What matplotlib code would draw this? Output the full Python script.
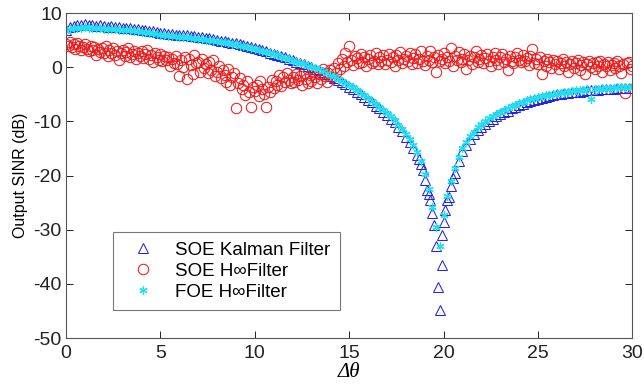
import numpy as np
import matplotlib
matplotlib.use("Agg")
import matplotlib.pyplot as plt

# ---- data ----
# shared grid for the Kalman / FOE series (0.2 deg step)
x_coarse = np.round(np.arange(0, 30.0001, 0.2), 1)

kalman_y = [
    6.9, 7.4, 7.6, 7.8, 7.7, 7.9, 7.7, 7.8, 7.6, 7.7,
    7.6, 7.5, 7.6, 7.4, 7.4, 7.3, 7.2, 7.3, 7.1, 7.0,
    6.9, 6.9, 6.7, 6.7, 6.5, 6.4, 6.4, 6.2, 6.2, 6.0,
    6.0, 5.9, 5.9, 5.7, 5.7, 5.6, 5.5, 5.4, 5.3, 5.2,
    5.1, 4.9, 4.8, 4.7, 4.5, 4.4, 4.2, 4.1, 3.9, 3.7,
    3.5, 3.3, 3.1, 2.9, 2.7, 2.5, 2.3, 2.0, 1.8, 1.5,
    1.3, 1.0, 0.8, 0.5, 0.3, 0.0, -0.3, -0.6, -0.9, -1.3,
    -1.6, -2.0, -2.3, -2.7, -3.1, -3.6, -4.0, -4.5, -5.0, -5.5,
    -6.0, -6.5, -7.1, -7.6, -8.2, -8.8, -9.5, -10.2, -11.0, -11.8,
    -12.8, -13.8, -15.0, -16.3, -17.8, -20.8, -23.5, -27.0, -33.0, -44.8,
    -28.5, -24.5, -22.0, -19.5, -17.3, -15.5, -14.4, -13.2, -12.4, -11.6,
    -11.0, -10.4, -9.9, -9.5, -9.1, -8.7, -8.3, -8.0, -7.6, -7.3,
    -7.0, -6.8, -6.5, -6.3, -6.0, -5.8, -5.7, -5.5, -5.3, -5.2,
    -5.0, -4.9, -4.8, -4.7, -4.6, -4.5, -4.5, -4.4, -4.3, -4.3,
    -4.2, -4.2, -4.1, -4.1, -4.0, -4.0, -3.9, -3.9, -3.9, -3.8,
    -3.8,
]
# extra Kalman points around the null
kalman_null_x = [18.7, 18.9, 19.1, 19.3, 19.5, 19.7, 19.9, 19.9, 20.1, 20.3, 20.5]
kalman_null_y = [-17.0, -19.0, -22.7, -24.5, -29.1, -40.5, -36.5, -31.0, -26.4, -23.9, -20.5]

foe_y = [
    6.6, 7.0, 7.2, 7.3, 7.2, 7.4, 7.3, 7.3, 7.2, 7.2,
    7.1, 7.1, 7.1, 7.0, 6.9, 6.9, 6.8, 6.8, 6.7, 6.6,
    6.5, 6.5, 6.3, 6.3, 6.1, 6.0, 6.0, 5.8, 5.8, 5.7,
    5.6, 5.5, 5.5, 5.4, 5.3, 5.2, 5.2, 5.0, 5.0, 4.9,
    4.8, 4.7, 4.6, 4.5, 4.3, 4.2, 4.0, 3.9, 3.7, 3.5,
    3.3, 3.2, 3.0, 2.8, 2.6, 2.4, 2.2, 1.9, 1.7, 1.5,
    1.2, 1.0, 0.8, 0.5, 0.3, 0.1, -0.2, -0.4, -0.7, -1.1,
    -1.4, -1.7, -2.1, -2.5, -2.9, -3.3, -3.7, -4.2, -4.7, -5.2,
    -5.7, -6.2, -6.8, -7.3, -7.9, -8.5, -9.1, -9.8, -10.6, -11.4,
    -12.3, -13.3, -14.4, -15.7, -17.3, -19.8, -22.5, -25.8, -29.5, -33.0,
    -27.3, -23.8, -21.0, -18.7, -16.6, -15.0, -13.8, -12.7, -11.9, -11.1,
    -10.5, -9.9, -9.4, -9.0, -8.6, -8.2, -7.9, -7.5, -7.2, -6.9,
    -6.6, -6.4, -6.1, -5.9, -5.7, -5.5, -5.4, -5.2, -5.1, -4.9,
    -4.8, -4.7, -4.6, -4.5, -4.4, -4.3, -4.3, -4.2, -4.1, -5.9,
    -4.0, -4.0, -3.9, -3.9, -3.8, -3.8, -3.7, -3.7, -3.7, -3.6,
    -3.6,
]

# SOE H-infinity series on a 0.1 deg grid
x_fine = np.round(np.arange(0, 30.0001, 0.1), 1)
soe_hinf_y = [
    4.3, 3.9, 4.6, 3.7, 4.2, 3.4, 4.5, 4.0, 3.1, 3.7,
    4.2, 3.3, 2.9, 3.9, 3.1, 3.7, 2.2, 3.4, 2.8, 3.6,
    2.6, 3.9, 2.0, 3.1, 2.7, 3.5, 2.3, 3.0, 1.4, 2.7,
    3.2, 2.0, 2.8, 3.5, 1.8, 2.5, 3.0, 1.6, 2.7, 2.1,
    2.9, 1.7, 2.4, 3.1, 1.5, 2.3, 1.0, 2.6, 1.9, 1.4,
    2.4, 1.1, 2.0, 1.3, 1.8, 0.3, 1.6, 0.8, 2.1, 0.6,
    -1.6, 1.3, 0.0, 1.8, -2.1, 1.5, 0.4, -1.2, 2.2, 0.7,
    1.0, -0.8, 1.6, -0.2, 0.6, -1.1, 0.9, -0.5, 1.3, -1.6,
    -0.9, 0.2, -2.0, -0.5, -1.4, -2.7, -0.3, -3.3, -1.8, -1.0,
    -7.5, -2.9, -2.0, -4.0, -3.2, -5.1, -2.5, -4.5, -7.3, -3.6,
    -4.4, -3.3, -5.4, -2.6, -4.0, -4.9, -7.3, -3.6, -4.6, -2.4,
    -3.8, -2.6, -3.2, -1.4, -3.5, -1.8, -2.8, -1.1, -2.3, -3.0,
    -1.9, -2.7, -1.2, -2.4, -1.7, -3.2, -1.0, -2.1, -2.9, -1.4,
    -2.5, -0.8, -1.9, -3.0, -1.3, -2.2, -0.3, -1.7, -2.8, -1.1,
    -0.5, -1.9, -0.2, -1.0, 0.8, -0.4, 1.5, 0.2, 2.7, 0.9,
    3.9, 1.3, 0.4, 2.1, 1.7, 0.7, 2.4, 1.0, 1.9, 0.2,
    1.5, 2.3, 0.8, 1.2, 2.6, 0.5, 1.8, 1.1, 2.2, 0.6,
    1.4, 2.5, 0.9, 1.9, 0.3, 2.2, 1.3, 2.8, 0.7, 1.6,
    2.0, 1.1, 2.7, 0.5, 1.7, 2.4, 0.8, 1.5, 2.9, 1.2,
    0.4, 2.1, 1.4, 3.0, 0.9, 1.8, -0.8, 2.3, 1.1, 1.6,
    2.6, 0.7, 1.9, 1.2, 3.5, 0.3, 2.0, 1.4, 2.8, 0.9,
    1.6, 2.4, -0.4, 1.3, 2.1, 0.6, 1.8, 2.9, 1.0, 1.5,
    2.2, 0.8, 1.7, 2.5, 1.1, 0.2, 1.9, 2.7, 1.3, 0.6,
    1.8, 2.4, 1.0, 1.6, -0.5, 2.1, 1.2, 0.7, 1.9, 2.6,
    1.4, 0.9, 2.3, 1.1, 1.7, 0.4, 2.0, 3.3, 0.8, 1.5,
    0.6, 1.8, -1.3, 1.2, 0.3, 1.6, 0.9, -0.2, 1.3, 0.5,
    1.1, -0.4, 0.8, 1.5, 0.2, 0.9, -0.8, 0.6, 1.2, -0.1,
    0.7, 1.3, -0.6, 0.4, 1.0, -1.2, 0.5, 1.1, 0.1, 0.8,
    -0.3, 0.9, 0.2, 1.2, -0.9, 0.6, 0.3, 1.0, -0.5, 0.4,
    0.8, -0.2, 1.1, 0.3, -1.0, 0.5, -4.8, 0.7, 1.0, -0.3,
    0.2,
]

labels = ["SOE Kalman Filter", "SOE H\u221eFilter", "FOE H\u221eFilter"]
x_ticks = [0, 5, 10, 15, 20, 25, 30]
y_ticks = [-50, -40, -30, -20, -10, 0, 10]

# ---- plot ----
plt.rcParams['font.family'] = ['Liberation Sans', 'DejaVu Sans']
plt.rcParams['axes.unicode_minus'] = False
fig = plt.figure(figsize=(6.44, 3.89), dpi=100)
ax = fig.add_axes([0.1025, 0.131, 0.8795, 0.8355])

kx = np.concatenate([x_coarse, kalman_null_x])
ky = np.concatenate([kalman_y, kalman_null_y])
h1, = ax.plot(kx, ky, linestyle='none', marker='^', markersize=7.5,
              markerfacecolor='none', markeredgecolor='#2525e0', markeredgewidth=0.75)
h2, = ax.plot(x_fine, soe_hinf_y, linestyle='none', marker='o', markersize=7.5,
              markerfacecolor='none', markeredgecolor='#f01818', markeredgewidth=0.75)
h3, = ax.plot(x_coarse, foe_y, linestyle='none', marker=(6, 2, 0), markersize=6,
              markerfacecolor='none', markeredgecolor='#20e0f0', markeredgewidth=0.9)

ax.set_xlim(0, 30)
ax.set_ylim(-50, 10)
ax.set_xticks(x_ticks)
ax.set_yticks(y_ticks)
ax.tick_params(direction='in', top=True, right=True, length=5, width=0.7,
               labelsize=14, colors='#222222')
ax.tick_params(axis='x', pad=5)
ax.tick_params(axis='y', pad=3)
for s in ax.spines.values():
    s.set_color('#555555')
    s.set_linewidth(0.8)

ax.set_ylabel("Output SINR (dB)", fontsize=11.5, labelpad=4)
ax.set_xlabel("\u0394\u03b8", fontsize=15, labelpad=1,
              family=['Liberation Serif', 'DejaVu Serif'], style='italic')

leg = ax.legend([h1, h2, h3], labels, loc='lower left', bbox_to_anchor=(0.083, 0.086),
                fontsize=13.5, frameon=True, fancybox=False, borderpad=0.5,
                handletextpad=0.6, labelspacing=0.2, borderaxespad=0, handlelength=2.2)
leg.get_frame().set_edgecolor('#555555')
leg.get_frame().set_linewidth(0.8)

fig.savefig("out.png", dpi=100)
